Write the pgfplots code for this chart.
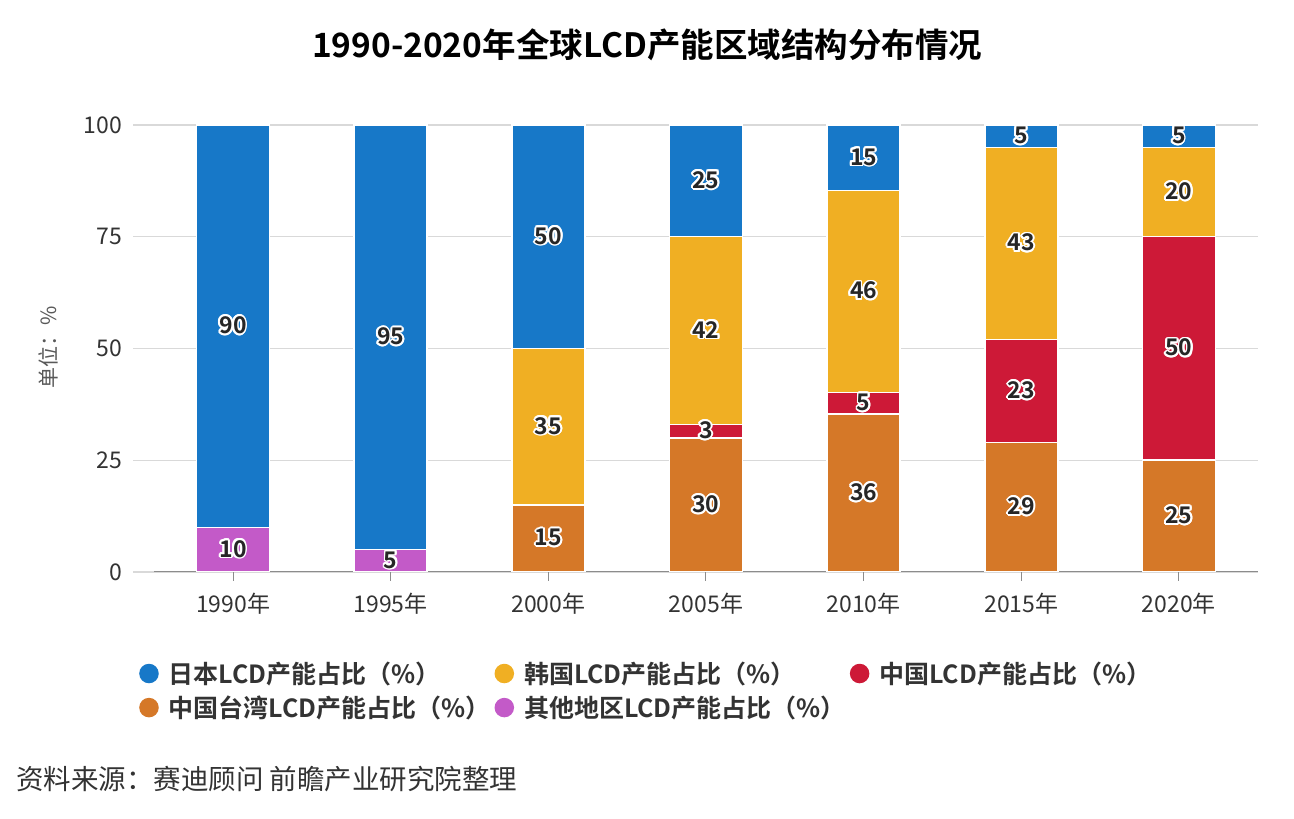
\documentclass[border=0pt]{standalone}
\usepackage{fontspec}
\setmainfont{Noto Sans CJK SC}[BoldFont={Noto Sans CJK SC Bold}]
\usepackage{pgfplots}
\pgfplotsset{compat=1.18}
\usepackage{pgfplotstable}
\usepackage[copies]{contour}
\contourlength{1.8pt}
\contournumber{16}

\definecolor{cJapan}{HTML}{1778C8}
\definecolor{cKorea}{HTML}{F0AF23}
\definecolor{cChina}{HTML}{CD1937}
\definecolor{cTaiwan}{HTML}{D57828}
\definecolor{cOther}{HTML}{C35AC8}
\definecolor{txt}{HTML}{333333}
\definecolor{gridc}{HTML}{D9D9D9}
\definecolor{axc}{HTML}{8C8C8C}

% x: category index, v: bar height (percent stacking), l: data label
\pgfplotstableread{
x v l
0 10 10
1 5 5
2 0 {}
3 0 {}
4 0 {}
5 0 {}
6 0 {}
}\tother
\pgfplotstableread{
x v l
0 0 {}
1 0 {}
2 15 15
3 30 30
4 35.3 36
5 29 29
6 25 25
}\ttaiwan
\pgfplotstableread{
x v l
0 0 {}
1 0 {}
2 0 {}
3 3 3
4 4.9 5
5 23 23
6 50 50
}\tchina
\pgfplotstableread{
x v l
0 0 {}
1 0 {}
2 35 35
3 42 42
4 45.1 46
5 43 43
6 20 20
}\tkorea
\pgfplotstableread{
x v l
0 90 90
1 95 95
2 50 50
3 25 25
4 14.7 15
5 5 5
6 5 5
}\tjapan

\pgfplotsset{
  seg/.style={fill=#1, draw=white, line width=1.5pt,
    nodes near coords={\contour{white}{\pgfplotspointmeta}},
    every node near coord/.style={font=\bfseries\fontsize{23}{23}\selectfont, text=black!85, anchor=center},
    legend image code/.code={\fill[#1] (0pt,0pt) circle (9pt);}},
}

\begin{document}
\begin{tikzpicture}
\useasboundingbox (0pt,0pt) rectangle (1294pt,819pt);
\begin{axis}[
  at={(133pt,247pt)}, anchor=south west,
  scale only axis, width=1124.8pt, height=447pt,
  xmin=-0.6345, xmax=6.5, ymin=0, ymax=100,
  ybar stacked, bar width=73pt,
  xtick={0,1,2,3,4,5,6},
  xticklabels={1990年,1995年,2000年,2005年,2010年,2015年,2020年},
  ytick={0,25,50,75,100},
  /pgf/number format/assume math mode=true,
  ymajorgrids, grid style={gridc, line width=1.2pt},
  axis line style={draw=none},
  xtick pos=bottom, ytick pos=left,
  xtick align=outside, major tick length=9pt,
  xtick style={draw=axc, line width=1pt},
  ytick style={draw=none},
  tick label style={font=\fontsize{23}{23}\selectfont, text=txt},
  yticklabel style={inner sep=0pt, xshift=-11pt},
  xticklabel style={yshift=-9pt},
  point meta=explicit symbolic,
  legend columns=3, reverse legend,
  legend cell align=left,
  legend style={at={(axis description cs:0.0027,-0.192)}, anchor=north west,
    draw=none, fill=none, font=\bfseries\fontsize{25}{25}\selectfont, text=txt,
    row sep=7pt,
    /tikz/every odd column/.append style={column sep=8pt},
    /tikz/every even column/.append style={column sep=2pt}},
]
\addplot[seg=cOther] table[x=x, y=v, meta=l] {\tother};
\addlegendentry{其他地区LCD产能占比（\%）}
\addplot[seg=cTaiwan] table[x=x, y=v, meta=l] {\ttaiwan};
\addlegendentry{中国台湾LCD产能占比（\%）}
\addplot[seg=cChina] table[x=x, y=v, meta=l] {\tchina};
\addlegendentry{中国LCD产能占比（\%）}
\addplot[seg=cKorea] table[x=x, y=v, meta=l] {\tkorea};
\addlegendentry{韩国LCD产能占比（\%）}
\addplot[seg=cJapan] table[x=x, y=v, meta=l] {\tjapan};
\addlegendentry{日本LCD产能占比（\%）}
\draw[axc, line width=1.5pt] (axis cs:-0.5,0) -- (axis cs:6.5,0);
\end{axis}
\node[font=\bfseries\fontsize{33.5}{33.5}\selectfont, text=black] at (647pt,774pt) {1990-2020年全球LCD产能区域结构分布情况};
\node[rotate=90, font=\fontsize{21}{21}\selectfont, text=black!65] at (48pt,472pt) {单位：\%};
\node[anchor=west, inner sep=0pt, font=\fontsize{27.5}{27.5}\selectfont, text=txt] at (16pt,40pt) {资料来源：赛迪顾问 前瞻产业研究院整理};
\end{tikzpicture}
\end{document}
